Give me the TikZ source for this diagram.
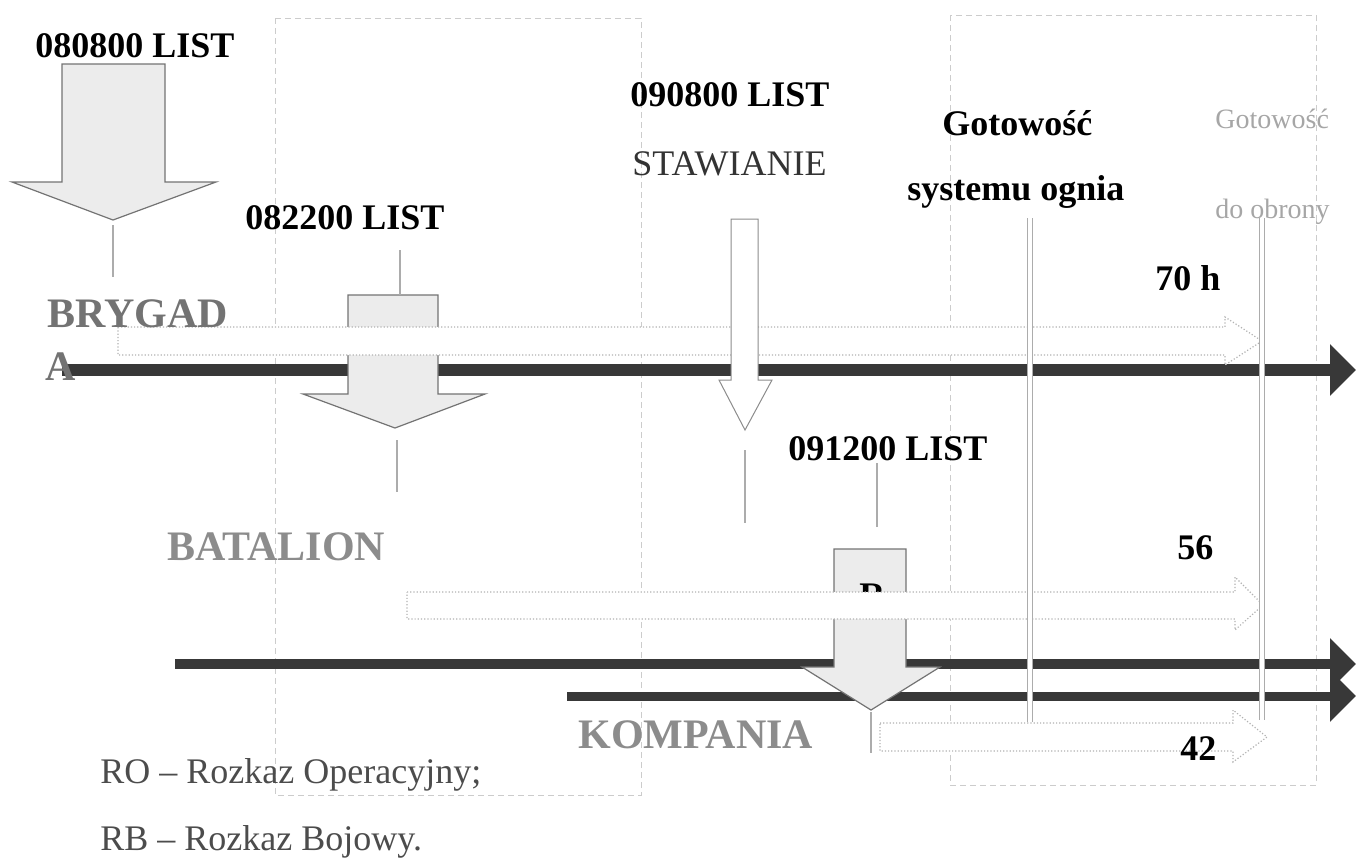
\documentclass[tikz,border=0pt]{standalone}
\usepackage{fontspec}
\setmainfont{Liberation Serif}
\usepackage{tikz}
\usetikzlibrary{calc, arrows.meta}

\begin{document}
\begin{tikzpicture}[x=0.5pt,y=-0.5pt]
\tikzstyle{frame}=[draw=gray!40,densely dashed,line width=0.4pt]
\tikzstyle{order}=[draw=black!55,fill=gray!15,line width=0.6pt]
\tikzstyle{blank}=[draw=black!45,fill=white,line width=0.5pt]
\tikzstyle{window}=[draw=gray!60,densely dotted,fill=white,line width=0.6pt]
\tikzstyle{timeline}=[draw=black!78,-{Triangle[length=13pt,width=25pt]}]
\tikzstyle{stem}=[draw=gray!65,line width=1.2pt]
\tikzstyle{ready}=[draw=gray!65,double,double distance=1.8pt,line width=0.5pt]
\tikzstyle{hour}=[anchor=base west,inner sep=0pt,font=\bfseries\fontsize{18}{20}\selectfont]
\tikzstyle{level}=[anchor=base west,inner sep=0pt,text=black!55,font=\bfseries\fontsize{21}{24}\selectfont]
\tikzstyle{note}=[anchor=base west,inner sep=0pt,text=black!70,font=\fontsize{18}{20}\selectfont]
\useasboundingbox (0,0) rectangle (1356,859);

% frames
\draw[frame] (275,18) rectangle (641,795);
\draw[frame] (950,15) rectangle (1316,785);

% time lines
\coordinate (T1s) at (62,370);  \coordinate (T1e) at (1356,370);
\coordinate (T2s) at (175,664); \coordinate (T2e) at (1356,664);
\coordinate (T3s) at (567,696); \coordinate (T3e) at (1356,696);
\draw[timeline,line width=6pt] (T1s) -- (T1e);
\draw[timeline,line width=5pt] (T2s) -- (T2e);
\draw[timeline,line width=4.5pt] (T3s) -- (T3e);

% orders
\coordinate (B1tip) at (113,220);
\draw[order] (62,64) -- (165,64) -- (165,182) -- (216,182) -- (B1tip) -- (12,182) -- (62,182) -- cycle;
\draw[stem] ($(B1tip)+(0,5)$) -- ++(0,52);

\coordinate (B2top) at (400,295); \coordinate (B2tip) at (395,428);
\draw[order] (348,295) -- (438,295) -- (438,394) -- (485,394) -- (B2tip) -- (303,394) -- (348,394) -- cycle;
\draw[stem] (B2top) -- ++(0,-45);
\draw[stem] ($(B2tip)+(2,12)$) -- ++(0,52);

\coordinate (B4top) at (877,549); \coordinate (B4tip) at (871,710);
\draw[order] (834,549) -- (906,549) -- (906,667) -- (940,667) -- (B4tip) -- (802,667) -- (834,667) -- cycle;
\node[hour] (rb) at (859,607) {R};
\draw[stem] ($(B4top)+(0,-22)$) -- ++(0,-64);
\draw[stem] ($(B4tip)+(0,2)$) -- ++(0,41);

% hours
\draw[window] (118,327) -- (1225,327) -- (1225,317) -- (1262,341) -- (1225,365) -- (1225,355) -- (118,355) -- cycle;
\draw[window] (407,592) -- (1235,592) -- (1235,577) -- (1263,605) -- (1235,630) -- (1235,619) -- (407,619) -- cycle;
\draw[window] (880,723) -- (1233,723) -- (1233,710) -- (1267,737) -- (1233,762) -- (1233,751) -- (880,751) -- cycle;

\coordinate (B3tip) at (745,430);
\draw[blank] (731,219) -- (758,219) -- (758,380) -- (772,380) -- (B3tip) -- (719,380) -- (731,380) -- cycle;
\draw[stem] ($(B3tip)+(0,20)$) -- ++(0,73);

% readiness
\draw[ready] (1030,218) -- (1030,722);
\draw[ready] (1262,218) -- (1262,720);

% labels
\node[hour] (L1) at (35,57) {080800 LIST};
\node[hour] (L2) at (245,229) {082200 LIST};
\node[hour] (L3) at (630,106) {090800 LIST};
\node[hour,text=black!80,font=\fontsize{18}{20}\selectfont] (S3) at (632,175) {STAWIANIE};
\node[hour] (L4) at (788,460) {091200 LIST};
\node[hour] (G1) at (942,135) {Gotowość};
\node[hour] (G2) at (907,200) {systemu ognia};
\node[hour,text=gray!70,font=\fontsize{14}{16}\selectfont] (D1) at (1215,128) {Gotowość};
\node[hour,text=gray!70,font=\fontsize{14}{16}\selectfont] (D2) at (1215,218) {do obrony};
\node[hour] (H70) at (1155,290) {70 h};
\node[hour] (H56) at (1177,559) {56};
\node[hour] (H42) at (1180,760) {42};
\node[level] (brygada) at (47,327) {BRYGAD};
\node[level] (brygadaA) at (45,380) {A};
\node[level,text=black!45] (batalion) at (167,560) {BATALION};
\node[level,text=black!45] (kompania) at (578,748) {KOMPANIA};
\node[note] (ro) at (100,783) {RO – Rozkaz Operacyjny;};
\node[note] (rbnote) at (100,850) {RB – Rozkaz Bojowy.};

\end{tikzpicture}
\end{document}
